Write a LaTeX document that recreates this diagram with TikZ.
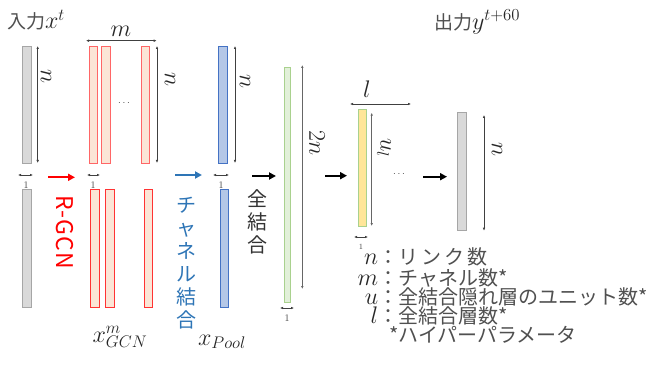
\RequirePackage{fix-cm}
\documentclass[tikz,border=0pt]{standalone}
\usepackage{fontspec}
\newfontfamily\jp{Noto Sans CJK JP}
\usetikzlibrary{arrows.meta}
\definecolor{barGray}{HTML}{D9D9D9}
\definecolor{barGrayD}{HTML}{A6A6A6}
\definecolor{barRed}{HTML}{FBE5D6}
\definecolor{barBlue}{HTML}{B4C7E7}
\definecolor{barBlueD}{HTML}{4472C4}
\definecolor{barGreen}{HTML}{E2F0D9}
\definecolor{barGreenD}{HTML}{A9D18E}
\definecolor{barYel}{HTML}{FFE699}
\definecolor{txt}{HTML}{262626}
\definecolor{jtxt}{HTML}{505050}
\definecolor{dimc}{HTML}{404040}
\definecolor{flowBlue}{HTML}{2E75B6}
\newcommand{\mbig}[1]{{\fontsize{24}{24}\selectfont\color{txt}$#1$}}
\tikzset{
  bar/.style={line width=0.8pt, inner sep=0pt, minimum width=9pt, minimum height=117pt},
  graybar/.style={bar, fill=barGray, draw=barGrayD},
  redbar/.style={bar, fill=barRed, draw=red!80},
  bluebar/.style={bar, fill=barBlue, draw=barBlueD},
  greenbar/.style={bar, fill=barGreen, draw=barGreenD},
  yelbar/.style={bar, fill=barYel, draw=barGreenD},
  dim/.style={draw=dimc, line width=0.6pt, {Latex[length=3pt,width=2.6pt]}-{Latex[length=3pt,width=2.6pt]}},
  flow/.style={line width=2pt, -{Triangle[length=7pt,width=7pt]}},
  one/.style={font=\fontsize{10}{10}\selectfont, text=dimc, inner sep=0pt},
  mlab/.style={font=\fontsize{24}{24}\selectfont, text=txt, inner sep=0pt},
  jlab/.style={font=\jp\fontsize{19}{19}\selectfont, text=jtxt, inner sep=0pt},
  vtext/.style={font=\jp\fontsize{20}{23}\selectfont, align=center, inner sep=0pt},
  leg/.style={font=\jp\fontsize{20}{20}\selectfont, text=jtxt, inner sep=0pt, anchor=west},
  dots/.style={font=\fontsize{10}{10}\selectfont, text=dimc, inner sep=0pt}
}
\begin{document}
\begin{tikzpicture}[x=1pt,y=-1pt]
\useasboundingbox (0,0) rectangle (661,374);
% bars
\node[graybar] (g1) at (26.5,104.5) {};
\node[graybar, minimum height=118pt] (g2) at (26.5,248) {};
\node[redbar, minimum width=8.5pt, draw=red!60] (r1) at (93.5,104.5) {};
\node[redbar, draw=red!60] (r2) at (105.8,104.5) {};
\node[redbar, minimum width=8.7pt, draw=red!60] (r3) at (145.3,104.5) {};
\node[redbar, minimum width=8.6pt, minimum height=118pt] (r4) at (95,248) {};
\node[redbar, minimum width=8.3pt, minimum height=118pt] (r5) at (109.8,248) {};
\node[redbar, minimum width=8pt, minimum height=118pt] (r6) at (148.3,248) {};
\node[bluebar] (b1) at (223.2,104.5) {};
\node[bluebar, minimum width=8.7pt, minimum height=118pt] (b2) at (224.3,248) {};
\node[greenbar, minimum width=6.7pt, minimum height=235.7pt] (gr) at (287.3,184.8) {};
\node[yelbar, minimum width=8.7pt] (ye) at (362.3,167.5) {};
\node[graybar, minimum height=117.3pt] (g3) at (461.5,171.3) {};
% dots
\node[dots] (d1) at (124,103) {$\cdots$};
\node[dots] (d2) at (399,174) {$\cdots$};
% flow arrows
\coordinate (fa1) at (48,177.3); \coordinate (fb1) at (75,177.3);
\coordinate (fa2) at (175,175); \coordinate (fb2) at (202,175);
\coordinate (fa3) at (252,176); \coordinate (fb3) at (276,176);
\coordinate (fa4) at (325,175.7); \coordinate (fb4) at (347,175.7);
\coordinate (fa5) at (423,176.7); \coordinate (fb5) at (447,176.7);
\draw[flow, red] (fa1) -- (fb1);
\draw[flow, flowBlue] (fa2) -- (fb2);
\draw[flow, black] (fa3) -- (fb3);
\draw[flow, black] (fa4) -- (fb4);
\draw[flow, black] (fa5) -- (fb5);
% dimension arrows
\draw[dim] (37.7,46) -- (37.7,163);
\node[mlab, rotate=-90] (ln1) at (46,77) {$n$};
\draw[dim] (86,40.7) -- (156.7,40.7);
\node[mlab] (lm) at (121,31) {$m$};
\draw[dim] (157,46) -- (157,163);
\node[mlab, rotate=-90] (ln2) at (170,80) {$n$};
\draw[dim] (235,46) -- (235,163);
\node[mlab, rotate=-90] (ln3) at (245,82) {$n$};
\draw[dim, draw=dimc!80] (302.3,65) -- (302.3,289);
\node[mlab, rotate=-90] (l2n) at (317,143) {$2n$};
\draw[dim] (350,104) -- (411,104);
\node[mlab] (ll) at (367,89) {$l$};
\draw[dim, draw=dimc!80] (371.7,112.7) -- (371.7,226);
\node[mlab, rotate=-90] (lul) at (384,148) {$u_l$};
\draw[dim] (484,115) -- (484,230.7);
\node[mlab, rotate=-90] (ln4) at (497,150) {$n$};
% width-one arrows
\draw[dim] (18,175) -- (33,175); \node[one] (o1) at (26,185) {1};
\draw[dim] (87,175) -- (100,175); \node[one] (o2) at (93,185) {1};
\draw[dim] (213,175) -- (229,175); \node[one] (o3) at (221,185) {1};
\draw[dim] (280,308) -- (294,308); \node[one] (o4) at (287,318) {1};
\draw[dim] (354,237) -- (368,237); \node[one, font=\fontsize{8}{8}\selectfont] (o5) at (361,247) {1};
% titles
\node[jlab] (tin) at (36,20) {入力\mbig{x^{t}}};
\node[jlab] (tout) at (477,22) {出力\mbig{y^{t+60}}};
\node[mlab] (xg) at (120,337) {$x^{m}_{GCN}$};
\node[mlab] (xp) at (222,342) {$x_{Pool}$};
% operation labels
\node[font=\jp\fontsize{23}{23}\selectfont, text=red, rotate=-90, inner sep=0pt] (rgcn) at (65,232) {R\kern1pt-\kern1ptG\kern1ptC\kern1ptN};
\node[vtext, text=flowBlue] (ch) at (186,263) {チ\\ャ\\ネ\\ル\\結\\合};
\node[vtext, text=black!80] (fc) at (257.5,222) {全\\結\\合};
% legend
\node[leg] (lg1) at (356,257) {\makebox[22pt][r]{\mbig{n}}：リ\kern3ptン\kern3ptク\kern3pt数};
\node[leg] (lg2) at (356,278) {\makebox[22pt][r]{\mbig{m}}：チャネル数*};
\node[leg] (lg3) at (356,297) {\makebox[22pt][r]{\mbig{u}}：全結合隠れ層のユニット数*};
\node[leg] (lg4) at (356,316) {\makebox[22pt][r]{\mbig{l}}：全結合層数*};
\node[leg] (lg5) at (389,335) {*ハイパーパラメータ};
\end{tikzpicture}
\end{document}
